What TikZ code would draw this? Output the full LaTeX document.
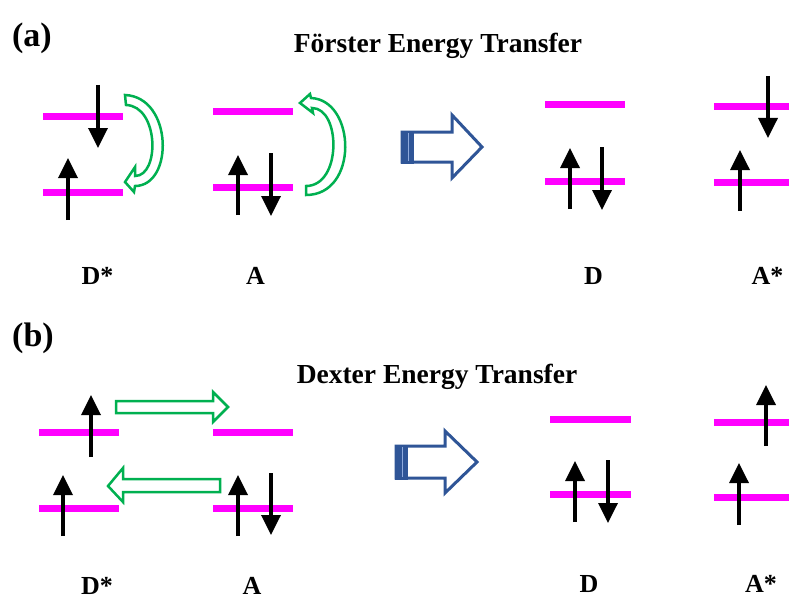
\documentclass[tikz,border=0pt]{standalone}
\usepackage{fontspec}
\setmainfont{Liberation Serif}
\usetikzlibrary{arrows.meta}
\definecolor{lvl}{HTML}{FF00FF}
\definecolor{grn}{HTML}{00B050}
\definecolor{dblue}{HTML}{2F5597}
\definecolor{lblue}{HTML}{8FAADC}
\begin{document}
\begin{tikzpicture}[x=1pt,y=-1pt,
  elevel/.style={draw=lvl,line width=7pt},
  spin/.style={line width=3.5pt,-{Triangle[width=19pt,length=20pt]}},
  hollowgreen/.style={draw=grn,line width=2.5pt,fill=white,line join=miter},
  bigblue/.style={draw=dblue,line width=3pt,fill=white,line join=miter},
  panel/.style={font=\bfseries\fontsize{34}{40}\selectfont,inner sep=0pt,anchor=base},
  ttl/.style={font=\bfseries\fontsize{27.5}{32}\selectfont,inner sep=0pt,anchor=base},
  lab/.style={font=\bfseries\fontsize{26}{30}\selectfont,inner sep=0pt,anchor=base}]
\useasboundingbox (0,0) rectangle (789,599);
\fill[white] (0,0) rectangle (789,599);

% ---------------- panel (a) ----------------
\node[panel] (pa) at (32,47) {(a)};
\node[ttl] (ta) at (438,53) {Förster Energy Transfer};

% levels
\draw[elevel] (43,117) -- (123,117);
\draw[elevel] (43,192) -- (123,192);
\draw[elevel] (213,112) -- (293,112);
\draw[elevel] (213,187) -- (293,187);
\draw[elevel] (545,105) -- (625,105);
\draw[elevel] (545,181) -- (625,181);
\draw[elevel] (714,107) -- (791,107);
\draw[elevel] (714,182) -- (791,182);

% spins
\draw[spin] (98,85) -- (98,148);
\draw[spin] (68,220) -- (68,158);
\draw[spin] (238,215) -- (238,155);
\draw[spin] (271,153) -- (271,216);
\draw[spin] (570,209) -- (570,148);
\draw[spin] (602,147) -- (602,210);
\draw[spin] (768,76) -- (768,138);
\draw[spin] (740,211) -- (740,150);

% curved hollow arrows
\draw[hollowgreen] (126,105) -- (125,95) .. controls (173,97) and (174,186) .. (135,186)
  -- (134,192) -- (125,182) -- (135,167) -- (135,176)
  .. controls (160,176) and (159,106) .. (126,105) -- cycle;
\draw[hollowgreen] (306,186) -- (306,195) .. controls (359,195) and (356,100) .. (311,98)
  -- (310,94) -- (300,103) -- (313,113) -- (312,108)
  .. controls (341,108) and (342,186) .. (306,186) -- cycle;

% big blue arrow
\draw[bigblue] (402,132) -- (452,132) -- (452,115) -- (482,147) -- (452,178) -- (452,162) -- (402,162) -- cycle;
\fill[dblue] (400.5,130.5) rectangle (414,163.5);
\draw[lblue,line width=1.2pt] (408.5,133) -- (408.5,161);

% labels
\node[lab] (da) at (97.5,284) {D*};
\node[lab] (aa) at (255.5,284) {A};
\node[lab] (db) at (593.5,284) {D};
\node[lab] (ab) at (767.5,284) {A*};

% ---------------- panel (b) ----------------
\node[panel] (pb) at (33,346) {(b)};
\node[ttl] (tb) at (437,383) {Dexter Energy Transfer};

% levels
\draw[elevel] (39,432) -- (119,432);
\draw[elevel] (39,508) -- (119,508);
\draw[elevel] (213,432) -- (293,432);
\draw[elevel] (213,508) -- (293,508);
\draw[elevel] (550,419) -- (631,419);
\draw[elevel] (550,494) -- (631,494);
\draw[elevel] (714,422) -- (791,422);
\draw[elevel] (714,497) -- (791,497);

% spins
\draw[spin] (91,457) -- (91,395);
\draw[spin] (63,536) -- (63,475);
\draw[spin] (238,536) -- (238,475);
\draw[spin] (271,473) -- (271,535);
\draw[spin] (575,522) -- (575,461);
\draw[spin] (608,460) -- (608,523);
\draw[spin] (766,446) -- (766,385);
\draw[spin] (739,525) -- (739,463);

% straight hollow arrows
\draw[hollowgreen] (116,401) -- (213,401) -- (213,392) -- (228,407) -- (213,422) -- (213,413) -- (116,413) -- cycle;
\draw[hollowgreen] (220,479) -- (123,479) -- (123,468) -- (108,486) -- (123,502) -- (123,492) -- (220,492) -- cycle;

% big blue arrow
\draw[bigblue] (396,446) -- (445,446) -- (445,431) -- (477,462) -- (445,493) -- (445,478) -- (396,478) -- cycle;
\fill[dblue] (394.5,444.5) rectangle (408,479.5);
\draw[lblue,line width=1.2pt] (402.5,447) -- (402.5,477);

% labels
\node[lab] (dc) at (97,594) {D*};
\node[lab] (ac) at (252,594) {A};
\node[lab] (dd) at (589,592) {D};
\node[lab] (ad) at (761,592) {A*};
\end{tikzpicture}
\end{document}
